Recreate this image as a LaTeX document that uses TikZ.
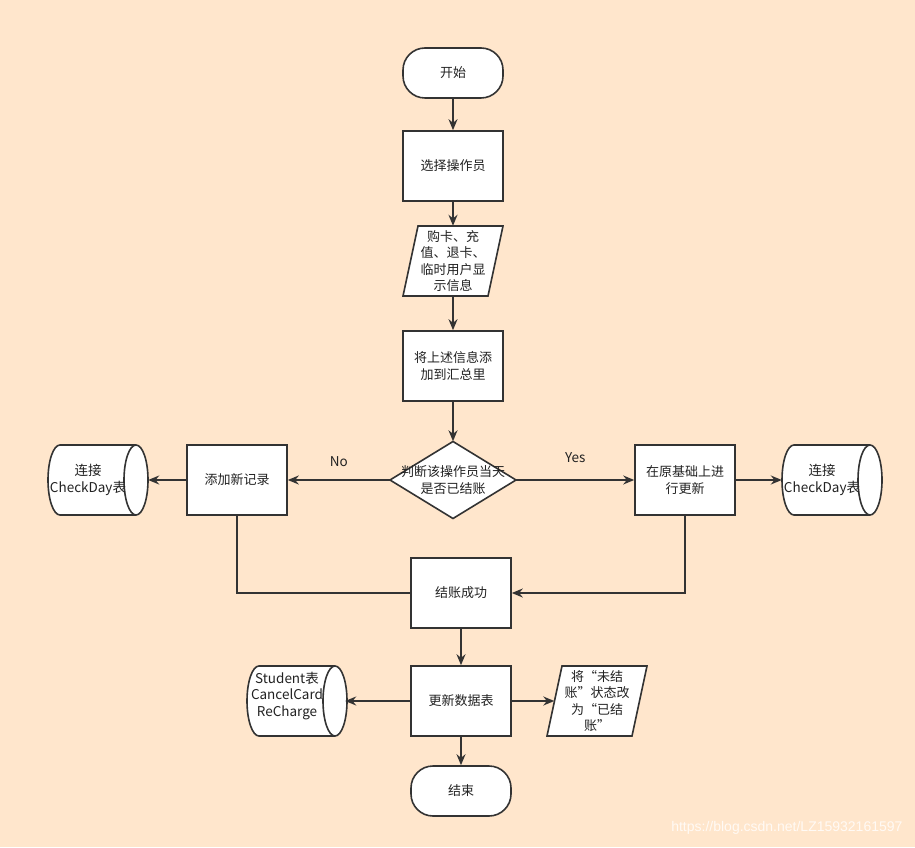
\documentclass[tikz,border=0pt]{standalone}
\usepackage{fontspec}
\setmainfont{Noto Sans CJK SC}
\newfontfamily\wmfont{Liberation Sans}
\usetikzlibrary{arrows.meta}
\definecolor{bg}{HTML}{FFE6CC}
\definecolor{ln}{HTML}{333333}
\definecolor{tx}{HTML}{222222}
\newcommand\mycyl[5]{%
  \draw[shp] ({#1-38},{#2+35}) -- ({#1+38},{#2+35})
    arc[start angle=90,end angle=-90,x radius=12,y radius=35]
    -- ({#1-38},{#2-35})
    arc[start angle=270,end angle=90,x radius=12,y radius=35] -- cycle;
  \draw[shp,fill=none] ({#1+38},{#2+35}) arc[start angle=90,end angle=270,x radius=12,y radius=35];
  \node[lbl] (#3) at (#1,#2) {};
  \node[lbl,minimum width=0pt,font=\fontsize{13.5}{16.5}\selectfont] (#3t) at ({#1-10},{#2+#5}) {#4};}
\newcommand\mypara[4]{%
  \draw[shp] ({#1-35},{#2+35}) -- ({#1+50},{#2+35}) -- ({#1+35},{#2-35}) -- ({#1-50},{#2-35}) -- cycle;
  \node[lbl] (#3) at (#1,#2) {#4};}
\begin{document}
\begin{tikzpicture}[x=1pt,y=1pt,
  font=\fontsize{13}{16.5}\selectfont,
  shp/.style={draw=ln,line width=1.6pt,fill=white},
  lbl/.style={minimum width=100pt,minimum height=70pt,inner sep=0pt,align=center,text=tx},
  box/.style={shp,lbl},
  term/.style={shp,lbl,minimum height=50pt,rounded corners=22pt},
  arr/.style={draw=ln,line width=1.6pt,-{Stealth[length=11pt,width=9pt]}},
  conn/.style={draw=ln,line width=1.6pt},
  tag/.style={text=tx,font=\fontsize{13.5}{16}\selectfont}]
\fill[bg] (0,0) rectangle (915,847);
\useasboundingbox (0,0) rectangle (915,847);

\node[term] (start) at (453,774) {开始};
\node[box] (sel) at (453,681) {选择操作员};
\mypara{453}{586}{info}{购卡、充\\值、退卡、\\临时用户显\\示信息}
\node[box] (sum) at (453,481) {将上述信息添\\加到汇总里};
\draw[shp] (453,{367+38.5}) -- (516,367) -- (453,{367-38.5}) -- (390,367) -- cycle;
\node[lbl,minimum width=126pt,minimum height=77pt] (dec) at (453,367) {判断该操作员当天\\是否已结账};
\node[box] (addnew) at (237,367) {添加新记录};
\mycyl{98}{367}{cylL}{连接\\CheckDay表}{0}
\node[box] (upd) at (685,367) {在原基础上进\\行更新};
\mycyl{832}{367}{cylR}{连接\\CheckDay表}{0}
\node[box] (ok) at (461,254) {结账成功};
\node[box] (data) at (461,146) {更新数据表};
\mycyl{297}{146}{cylB}{Student表\\CancelCard\\ReCharge}{5}
\mypara{597}{146}{para2}{将“未结\\账”状态改\\为“已结\\账”}
\node[term] (end) at (461,56) {结束};

\draw[arr] (start) -- (sel);
\draw[arr] (sel) -- (info);
\draw[arr] (info) -- (sum);
\draw[arr] (sum) -- (dec);
\draw[arr] (dec.west) -- node[tag,above=9pt] {No} (addnew.east);
\draw[arr] (dec.east) -- node[tag,above=13pt] {Yes} (upd.west);
\draw[arr] (addnew.west) -- (cylL.east);
\draw[arr] (upd.east) -- (cylR.west);
\draw[conn] (addnew.south) |- (ok.west);
\draw[arr] (upd.south) |- (ok.east);
\draw[arr] (ok) -- (data);
\draw[arr] (data.west) -- ([xshift=-2pt]cylB.east);
\draw[arr] (data.east) -- ([xshift=7.5pt]para2.west);
\draw[arr] (data) -- (end);

\node[font=\wmfont\fontsize{14}{16}\selectfont,text=white!80!bg,anchor=east] (wm) at (906,19) {https://blog.csdn.net/LZ15932161597};
\end{tikzpicture}
\end{document}
